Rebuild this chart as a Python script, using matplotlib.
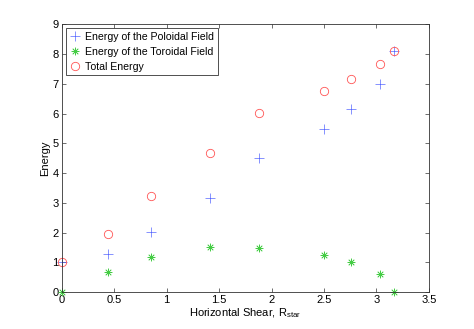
import matplotlib
matplotlib.use("Agg")
import matplotlib.pyplot as plt

plt.rcParams['font.family'] = ['Liberation Sans', 'DejaVu Sans']
plt.rcParams['mathtext.default'] = 'regular'

# shear values and energies
shear = [0.0, 0.44, 0.85, 1.41, 1.88, 2.50, 2.76, 3.03, 3.17]
poloidal = [1.0, 1.29, 2.01, 3.15, 4.52, 5.49, 6.15, 7.00, 8.11]
toroidal = [0.0, 0.68, 1.19, 1.51, 1.48, 1.25, 1.01, 0.62, 0.0]
total = [1.0, 1.97, 3.23, 4.67, 6.01, 6.77, 7.17, 7.65, 8.11]

fig = plt.figure(figsize=(4.74, 3.29), dpi=100)
ax = fig.add_axes([0.130, 0.1116, 0.775, 0.815])

blue = '#5566ff'
green = '#44cc44'
red = '#ff5555'

ax.plot(shear, poloidal, linestyle='none', marker='+', markersize=6.5,
        markeredgewidth=0.5, color=blue, markeredgecolor=blue, clip_on=False,
        label='Energy of the Poloidal Field')
ax.plot(shear, toroidal, linestyle='none', marker=(8, 2, 0), markersize=5.5,
        markeredgewidth=0.5, color=green, markeredgecolor=green, clip_on=False,
        label='Energy of the Toroidal Field')
ax.plot(shear, total, linestyle='none', marker='o', markersize=6,
        markeredgewidth=0.6, markerfacecolor='none', color=red, markeredgecolor=red,
        clip_on=False, label='Total Energy')

ax.set_xlim(0, 3.5)
ax.set_ylim(0, 9)
ax.set_xticks([0, 0.5, 1, 1.5, 2, 2.5, 3, 3.5])
ax.set_xticklabels(['0', '0.5', '1', '1.5', '2', '2.5', '3', '3.5'])
ax.set_yticks(range(10))
ax.tick_params(direction='in', length=3, width=0.5, labelsize=8, pad=2,
               top=True, right=True, colors='#333333', labelcolor='black')
for s in ax.spines.values():
    s.set_linewidth(0.6)
    s.set_color('#333333')

ax.set_xlabel('Horizontal Shear, R$_{star}$', fontsize=8, labelpad=1)
ax.set_ylabel('Energy', fontsize=8, labelpad=2)

leg = ax.legend(loc='upper left', fontsize=7.6, fancybox=False, framealpha=1,
                edgecolor='#333333', borderpad=0.35, labelspacing=0.45,
                handlelength=1.0, handletextpad=0.5, borderaxespad=0.4)
leg.get_frame().set_linewidth(0.6)

fig.savefig('out.png', dpi=100)
